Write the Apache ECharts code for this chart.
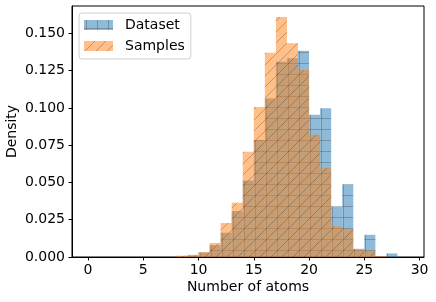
<!DOCTYPE html>
<html>
<head>
<meta charset="utf-8">
<script src="https://cdn.jsdelivr.net/npm/echarts@6/dist/echarts.min.js"></script>
<style>
html,body{margin:0;padding:0;background:#fff;}
#chart{width:436px;height:302px;}
</style>
</head>
<body>
<div id="chart"></div>
<script>
// Histogram bins (left edges, width 1)
const binStarts = [8, 9, 10, 11, 12, 13, 14, 15, 16, 17, 18, 19, 20, 21, 22, 23, 24, 25, 26, 27];
const datasetDensity = [0, 0.0010, 0.0030, 0.0080, 0.0163, 0.0308, 0.0513, 0.0785, 0.1062, 0.1310, 0.1333, 0.1383, 0.0953, 0.0998, 0.0339, 0.0487, 0.0055, 0.0149, 0, 0.0024];
const samplesDensity = [0.0009, 0.0015, 0.0033, 0.0094, 0.0228, 0.0364, 0.0705, 0.1006, 0.1370, 0.1609, 0.1433, 0.1254, 0.0819, 0.0598, 0.0205, 0.0189, 0.0047, 0.0042, 0.0005, 0];
const binWidth = 1;
const xTicks = [0, 5, 10, 15, 20, 25, 30];
const yTicks = [0, 0.025, 0.05, 0.075, 0.1, 0.125, 0.15];
const seriesNames = ['Dataset', 'Samples'];

function makePattern(base, kind) {
  const c = document.createElement('canvas');
  c.width = 11; c.height = 11;
  const g = c.getContext('2d');
  g.fillStyle = base;
  g.fillRect(0, 0, 11, 11);
  g.strokeStyle = 'rgba(40,40,40,0.28)';
  g.lineWidth = 1;
  g.beginPath();
  if (kind === '+') {
    g.moveTo(0, 8.5); g.lineTo(11, 8.5);
    g.moveTo(2.5, 0); g.lineTo(2.5, 11);
  } else {
    g.moveTo(-1, 12); g.lineTo(12, -1);
    g.moveTo(-1, 1); g.lineTo(1, -1);
    g.moveTo(10, 12); g.lineTo(12, 10);
  }
  g.stroke();
  return { image: c, repeat: 'repeat' };
}

const blueFill = makePattern('rgba(31,119,180,0.5)', '+');
const orangeFill = makePattern('rgba(255,127,14,0.5)', '/');

function toData(vals) {
  const out = [];
  for (let i = 0; i < binStarts.length; i++) {
    if (vals[i] > 0) out.push([binStarts[i], vals[i]]);
  }
  return out;
}

function makeRender(fill) {
  return function (params, api) {
    const x0 = api.value(0), v = api.value(1);
    const p0 = api.coord([x0, 0]);
    const p1 = api.coord([x0 + binWidth, v]);
    return {
      type: 'rect',
      shape: { x: p0[0], y: p1[1], width: p1[0] - p0[0], height: p0[1] - p1[1] },
      style: { fill: fill }
    };
  };
}

const font = 'DejaVu Sans';
const fs = 14;
const chart = echarts.init(document.getElementById('chart'), null, { renderer: 'canvas' });
chart.setOption({
  animation: false,
  backgroundColor: '#fff',
  textStyle: { fontFamily: font },
  grid: { left: 72, right: 12, top: 6, bottom: 45, containLabel: false, outerBoundsMode: 'none',
    show: true, borderColor: '#000', borderWidth: 1, backgroundColor: 'transparent' },
  legend: {
    orient: 'vertical', left: 79, top: 13,
    itemWidth: 29, itemHeight: 10, itemGap: 7,
    padding: [5, 6, 6, 5],
    backgroundColor: 'rgba(255,255,255,0.8)',
    borderColor: '#d0d0d0', borderWidth: 1, borderRadius: 3,
    textStyle: { fontFamily: font, fontSize: fs, color: '#000', lineHeight: 14, padding: [0, 0, 0, 7] },
    data: [
      { name: seriesNames[0], icon: 'rect', itemStyle: { color: blueFill } },
      { name: seriesNames[1], icon: 'rect', itemStyle: { color: orangeFill } }
    ]
  },
  xAxis: {
    type: 'value', min: -1.45, max: 30.4,
    name: 'Number of atoms', nameLocation: 'middle', nameGap: 23, nameMoveOverlap: false,
    nameTextStyle: { fontFamily: font, fontSize: fs, color: '#000' },
    axisLine: { show: true, onZero: false, lineStyle: { color: '#000', width: 1 } },
    axisTick: { show: true, length: 3.5, customValues: xTicks, lineStyle: { color: '#000' } },
    axisLabel: { customValues: xTicks, margin: 6, fontFamily: font, fontSize: fs, color: '#000' },
    splitLine: { show: false }
  },
  yAxis: {
    type: 'value', min: 0, max: 0.1683,
    name: 'Density', nameLocation: 'middle', nameGap: 59.5, nameRotate: 90, nameMoveOverlap: false,
    nameTextStyle: { fontFamily: font, fontSize: fs, color: '#000', verticalAlign: 'middle' },
    axisLine: { show: true, onZero: false, lineStyle: { color: '#000', width: 1 } },
    axisTick: { show: true, length: 3.5, customValues: yTicks, lineStyle: { color: '#000' } },
    axisLabel: { customValues: yTicks, margin: 7, fontFamily: font, fontSize: fs, color: '#000',
      formatter: function (v) { return v.toFixed(3); } },
    splitLine: { show: false }
  },
  series: [
    { name: seriesNames[0], type: 'custom', renderItem: makeRender(blueFill), itemStyle: { color: blueFill },
      encode: { x: 0, y: 1 }, data: toData(datasetDensity), z: 2 },
    { name: seriesNames[1], type: 'custom', renderItem: makeRender(orangeFill), itemStyle: { color: orangeFill },
      encode: { x: 0, y: 1 }, data: toData(samplesDensity), z: 3 }
  ]
});
</script>
</body>
</html>
